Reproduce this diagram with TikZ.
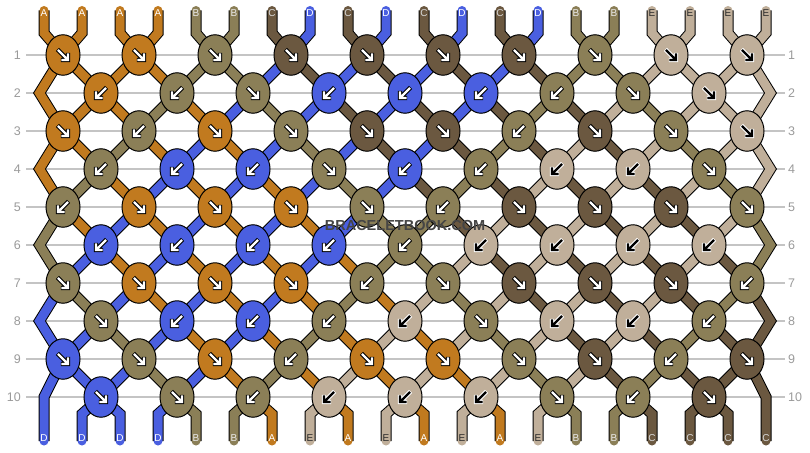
\documentclass[tikz,border=0pt]{standalone}
\usepackage{fontspec}
\setmainfont{Liberation Sans}
\usetikzlibrary{shapes.geometric}
\pgfdeclarelayer{bg}
\pgfsetlayers{bg,main}

\definecolor{cA}{HTML}{C17A1F}
\definecolor{cB}{HTML}{8B7F57}
\definecolor{cC}{HTML}{6B5840}
\definecolor{cD}{HTML}{4A5FE0}
\definecolor{cE}{HTML}{C0AF9A}
\colorlet{fA}{white}\colorlet{fB}{white}\colorlet{fC}{white}\colorlet{fD}{white}\colorlet{fE}{black}
\colorlet{oA}{black}\colorlet{oB}{black}\colorlet{oC}{black}\colorlet{oD}{black}\colorlet{oE}{white}
\colorlet{tA}{white}\colorlet{tB}{white!92!black}\colorlet{tC}{white!85!black}\colorlet{tD}{white}\definecolor{tE}{HTML}{2A2A2A}
\definecolor{gridgray}{HTML}{C4C4C4}
\definecolor{numgray}{HTML}{9A9A9A}
\definecolor{wmgray}{HTML}{454545}

% thread colours after each row (index 0..19)
\expandafter\def\csname S0\endcsname{A,A,A,A,B,B,C,D,C,D,C,D,C,D,B,B,E,E,E,E}
\expandafter\def\csname S1\endcsname{A,A,A,A,B,B,D,C,D,C,D,C,D,C,B,B,E,E,E,E}
\expandafter\def\csname S2\endcsname{A,A,A,B,A,D,B,D,C,D,C,D,C,B,C,E,B,E,E,E}
\expandafter\def\csname S3\endcsname{A,A,B,A,D,A,D,B,D,C,D,C,B,C,E,C,E,B,E,E}
\expandafter\def\csname S4\endcsname{A,B,A,D,A,D,A,D,B,D,C,B,C,E,C,E,C,E,B,E}
\expandafter\def\csname S5\endcsname{B,A,D,A,D,A,D,A,D,B,B,C,E,C,E,C,E,C,E,B}
\expandafter\def\csname S6\endcsname{B,D,A,D,A,D,A,D,A,B,B,E,C,E,C,E,C,E,C,B}
\expandafter\def\csname S7\endcsname{D,B,D,A,D,A,D,A,B,A,E,B,E,C,E,C,E,C,B,C}
\expandafter\def\csname S8\endcsname{D,D,B,D,A,D,A,B,A,E,A,E,B,E,C,E,C,B,C,C}
\expandafter\def\csname S9\endcsname{D,D,D,B,D,A,B,A,E,A,E,A,E,B,E,C,B,C,C,C}
\expandafter\def\csname S10\endcsname{D,D,D,D,B,B,A,E,A,E,A,E,A,E,B,B,C,C,C,C}

% knots per row: colour/direction
\expandafter\def\csname K1\endcsname{A/R,A/R,B/R,C/R,C/R,C/R,C/R,B/R,E/R,E/R}
\expandafter\def\csname K2\endcsname{A/L,B/L,B/R,D/L,D/L,D/L,B/L,B/R,E/R}
\expandafter\def\csname K3\endcsname{A/R,B/L,A/R,B/R,C/R,C/R,B/L,C/R,B/R,E/R}
\expandafter\def\csname K4\endcsname{B/L,D/L,D/L,B/R,D/L,B/L,E/L,E/L,B/R}
\expandafter\def\csname K5\endcsname{B/L,A/R,A/R,A/R,B/R,B/L,C/R,C/R,C/R,B/R}
\expandafter\def\csname K6\endcsname{D/L,D/L,D/L,D/L,B/L,E/L,E/L,E/L,E/L}
\expandafter\def\csname K7\endcsname{B/R,A/R,A/R,A/R,B/L,B/R,C/R,C/R,C/R,B/L}
\expandafter\def\csname K8\endcsname{B/R,D/L,D/L,B/L,E/L,B/R,E/L,E/L,B/L}
\expandafter\def\csname K9\endcsname{D/R,B/R,A/R,B/L,A/R,A/R,B/R,C/R,B/L,C/R}
\expandafter\def\csname K10\endcsname{D/R,B/R,B/L,E/L,E/L,E/L,B/R,B/L,C/R}

\tikzset{
  knot/.style={ellipse, draw=black, line width=1pt, minimum width=34pt, minimum height=40.5pt, inner sep=0pt},
  thread/.style={line width=9pt, line cap=round, line join=miter, preaction={draw=black, line width=11pt}},
  arrowline/.style={line cap=butt, line join=miter},
  lbl/.style={font=\fontsize{10}{10}\selectfont, inner sep=0pt},
  rownum/.style={font=\fontsize{12.5}{12.5}\selectfont, text=numgray, inner sep=0pt},
  gridline/.style={draw=gridgray, line width=1.2pt},
  wm/.style={font=\fontsize{14.5}{14.5}\bfseries\selectfont, inner sep=0pt}
}

\begin{document}
\begin{tikzpicture}[x=1pt,y=-1pt]
\useasboundingbox (0,0) rectangle (810,452);

% knots
\foreach \r in {1,...,10} {
  \edef\cur{\csname K\r\endcsname}
  \ifodd\r\relax \def\xo{63}\else \def\xo{101}\fi
  \foreach \c/\d [count=\j from 0] in \cur {
    \node[knot, fill=c\c] (k-\r-\j) at ({\xo+76*\j}, {17+38*\r}) {};
    \if\d R\def\xs{1}\else\def\xs{-1}\fi
    \begin{scope}[shift={(k-\r-\j.center)}, xscale=\xs]
      \draw[arrowline, draw=o\c, line width=4.4pt] (-5.6,-5.6) -- (4.6,4.6) (-2.2,5) -- (5,5) -- (5,-2.2);
      \draw[arrowline, draw=f\c, line width=2.4pt] (-5.1,-5.1) -- (4.6,4.6) (-1.7,5) -- (5,5) -- (5,-1.7);
    \end{scope}
  }
}

% edge points
\foreach \r in {2,4,6,8} {
  \coordinate (e-\r-L) at (39.5, {17+38*\r});
  \coordinate (e-\r-R) at (770.5, {17+38*\r});
}
\coordinate (e-10-L) at (44,397);
\coordinate (e-10-R) at (766,397);

% thread position points
\foreach \r in {1,...,10} {
  \foreach \i in {0,...,19} {
    \ifodd\r\relax
      \pgfmathtruncatemacro\j{div(\i,2)}
      \coordinate (p-\r-\i) at (k-\r-\j.center);
    \else
      \ifnum\i=0 \coordinate (p-\r-\i) at (e-\r-L);
      \else\ifnum\i=19 \coordinate (p-\r-\i) at (e-\r-R);
      \else
        \pgfmathtruncatemacro\j{div(\i-1,2)}
        \coordinate (p-\r-\i) at (k-\r-\j.center);
      \fi\fi
    \fi
  }
}

% top and bottom ends, labels
\edef\curtop{\csname S0\endcsname}
\foreach \c [count=\i from 0] in \curtop {
  \coordinate (ts-\i) at ({44+38*\i},10.5);
  \coordinate (tb-\i) at ({44+38*\i},33);
  \node[lbl, text=t\c] (lt-\i) at ({44+38*\i},13.5) {\c};
}
\edef\curbot{\csname S10\endcsname}
\foreach \c [count=\i from 0] in \curbot {
  \coordinate (bb-\i) at ({44+38*\i},414);
  \coordinate (be-\i) at ({44+38*\i},441);
  \node[lbl, text=t\c] (lb-\i) at ({44+38*\i},438.5) {\c};
}

% row numbers
\foreach \r in {1,...,10} {
  \node[rownum, anchor=east] (nl-\r) at (21,{17+38*\r}) {\r};
  \node[rownum, anchor=west] (nr-\r) at (788,{17+38*\r}) {\r};
}

\begin{pgfonlayer}{bg}
  \foreach \r in {1,...,10} {
    \draw[gridline] (26,{17+38*\r}) -- (785,{17+38*\r});
  }
  % top stubs
  \foreach \c [count=\i from 0] in \curtop {
    \draw[thread, draw=c\c] (ts-\i) -- (tb-\i) -- (p-1-\i);
  }
  % between rows
  \foreach \r in {1,...,9} {
    \edef\cur{\csname S\r\endcsname}
    \pgfmathtruncatemacro\rn{\r+1}
    \pgfmathtruncatemacro\rnn{\r+2}
    \foreach \c [count=\i from 0] in \cur {
      \ifnum\i=0 \def\isedge{1}\else\ifnum\i=19 \def\isedge{1}\else\def\isedge{0}\fi\fi
      \ifnum\isedge=1
        \ifodd\r\relax
          \ifnum\r=9
            \draw[thread, draw=c\c] (p-\r-\i) -- (p-\rn-\i) -- (be-\i);
          \else
            \draw[thread, draw=c\c] (p-\r-\i) -- (p-\rn-\i) -- (p-\rnn-\i);
          \fi
        \fi
      \else
        \draw[thread, draw=c\c] (p-\r-\i) -- (p-\rn-\i);
      \fi
    }
  }
  % bottom stubs
  \foreach \c [count=\i from 0] in \curbot {
    \ifnum\i>0 \ifnum\i<19
      \draw[thread, draw=c\c] (p-10-\i) -- (bb-\i) -- (be-\i);
    \fi\fi
  }
\end{pgfonlayer}

% watermark
\node[wm, text=wmgray] (wm) at (405,226) {BRACELETBOOK.COM};
\end{tikzpicture}
\end{document}
